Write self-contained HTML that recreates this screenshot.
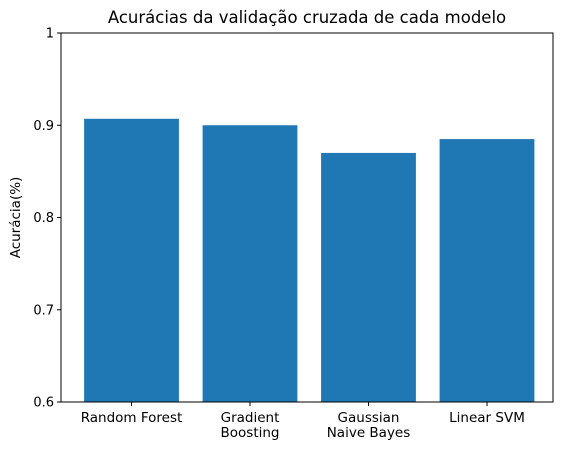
<!DOCTYPE html>
<html><head><meta charset="utf-8"><style>
body{margin:0;background:#fff;}
svg{display:block;font-family:"DejaVu Sans","Liberation Sans",sans-serif;}
</style></head><body>
<svg id="chart" width="567" height="452"></svg>
<script>
const categories = [["Random Forest"],["Gradient","Boosting"],["Gaussian","Naive Bayes"],["Linear SVM"]];
const accuracies = [0.907, 0.900, 0.870, 0.885];
const yTicks = [0.6, 0.7, 0.8, 0.9, 1];
const yTickLabels = ["0.6","0.7","0.8","0.9","1"];

const NS="http://www.w3.org/2000/svg";
const svg=document.getElementById('chart');
const L=61,R=553,T=33,B=402;
const yMin=0.6,yMax=1;
const xMin=-0.595,xMax=3.557;
const y=v=>B-(v-yMin)/(yMax-yMin)*(B-T);
const x=v=>L+(v-xMin)/(xMax-xMin)*(R-L);
function mk(tag,attrs,parent){const e=document.createElementNS(NS,tag);for(const k in attrs)e.setAttribute(k,attrs[k]);(parent||svg).appendChild(e);return e;}

accuracies.forEach((v,i)=>{
  const r=mk('rect',{x:x(i-0.4),y:y(v),width:x(i+0.4)-x(i-0.4),height:B-y(v),fill:'#1f77b4'});
  
  
});
const frame=mk('rect',{x:L,y:T,width:R-L,height:B-T,fill:'none',stroke:'#000','stroke-width':1});



yTicks.forEach((v,i)=>{
  mk('line',{x1:L-4,x2:L,y1:y(v),y2:y(v),stroke:'#000'});
  const t=mk('text',{x:L-7,y:y(v)+4.5,'text-anchor':'end','font-size':13});
  t.textContent=yTickLabels[i];
  
  
});
categories.forEach((lines,i)=>{
  mk('line',{x1:x(i),x2:x(i),y1:B,y2:B+4,stroke:'#000'});
  lines.forEach((s,j)=>{
    const t=mk('text',{x:x(i),y:B+20+j*15,'text-anchor':'middle','font-size':13.5});
    t.textContent=s;
    
    
  });
});
const yt=mk('text',{x:20,y:(T+B)/2,'text-anchor':'middle','font-size':13.5,transform:`rotate(-90 20 ${(T+B)/2})`});
yt.textContent='Acurácia(%)';


const title=mk('text',{x:(L+R)/2,y:23,'text-anchor':'middle','font-size':16.5});
title.textContent='Acurácias da validação cruzada de cada modelo';


</script>
</body></html>
